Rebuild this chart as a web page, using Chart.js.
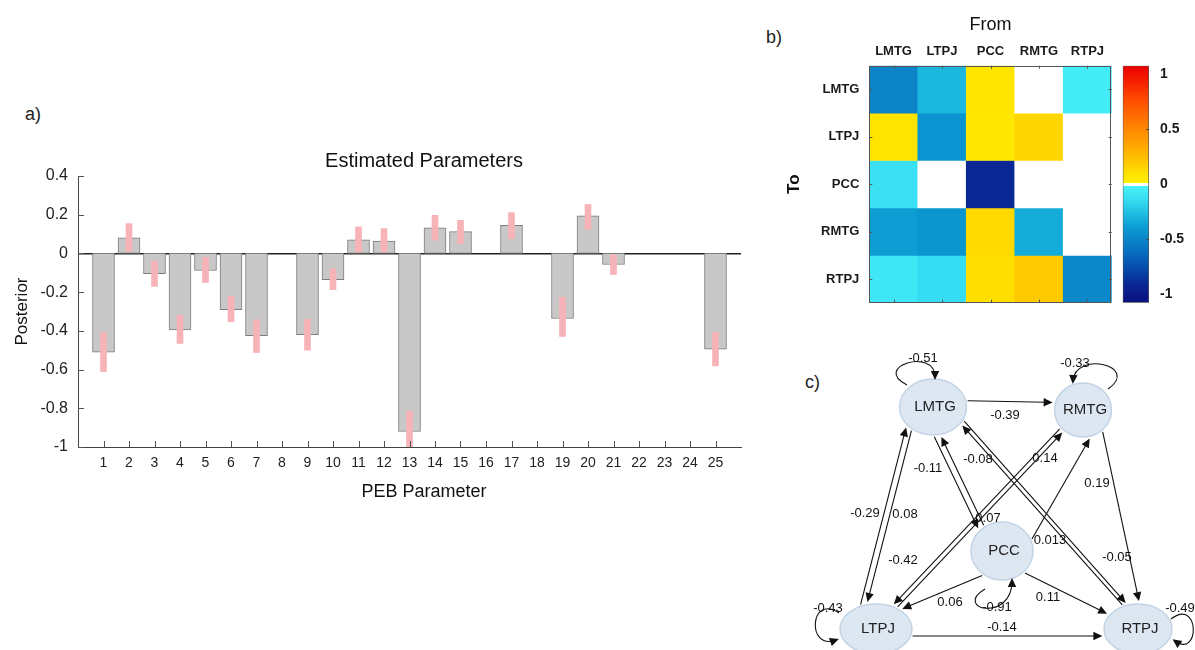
<!DOCTYPE html>
<html><head><meta charset="utf-8">
<script src="https://cdn.jsdelivr.net/npm/chart.js@4.4.1/dist/chart.umd.min.js"></script>
<style>
html,body{margin:0;padding:0;background:#fff;width:1195px;height:650px;overflow:hidden;position:relative;font-family:"Liberation Sans",Arial,sans-serif;}
.panel{position:absolute;}
.lbl{position:absolute;font-size:18px;color:#222;line-height:21px;}
</style></head><body>
<div class="lbl" style="left:25px;top:104px">a)</div>
<div class="lbl" style="left:766px;top:27px">b)</div>
<div class="lbl" style="left:805px;top:372px">c)</div>
<div class="panel" style="left:0;top:140px;width:848px;height:370px"><canvas id="bar"></canvas></div>
<div class="panel" style="left:760px;top:0;width:435px;height:330px"><canvas id="heat"></canvas></div>
<div class="panel" style="left:1110px;top:0;width:85px;height:330px"><canvas id="cbar"></canvas></div>
<div class="panel" style="left:800px;top:340px;width:395px;height:310px"><canvas id="net"></canvas></div>
<script>
// ---------- a) bar chart data ----------
const paramIds = [1,2,3,4,5,6,7,8,9,10,11,12,13,14,15,16,17,18,19,20,21,22,23,24,25];
const posterior = [-0.51,0.08,-0.105,-0.395,-0.088,-0.29,-0.425,null,-0.42,-0.135,0.07,0.064,-0.92,0.132,0.113,null,0.145,null,-0.336,0.194,-0.057,null,null,null,-0.495];
const ciLow  = [-0.61,0.01,-0.17,-0.465,-0.15,-0.353,-0.512,null,-0.5,-0.187,0.007,0.007,-1.04,0.068,0.05,null,0.076,null,-0.429,0.125,-0.109,null,null,null,-0.581];
const ciHigh = [-0.41,0.154,-0.04,-0.32,-0.02,-0.22,-0.343,null,-0.34,-0.08,0.137,0.128,-0.815,0.197,0.171,null,0.211,null,-0.226,0.253,-0.007,null,null,null,-0.408];

// ---------- b) matrix data (rows = To, cols = From) ----------
const fromNames = ['LMTG','LTPJ','PCC','RMTG','RTPJ'];
const toNames   = ['LMTG','LTPJ','PCC','RMTG','RTPJ'];
const toLMTG = [-0.51,-0.29,0.07,null,-0.05];
const toLTPJ = [0.08,-0.43,0.06,0.14,null];
const toPCC  = [-0.11,null,-0.91,null,null];
const toRMTG = [-0.39,-0.42,0.13,-0.33,null];
const toRTPJ = [-0.08,-0.14,0.11,0.19,-0.49];
const cbarTicks = [-1,-0.5,0,0.5,1];
const cbarTickLabels = ['-1','-0.5','0','0.5','1'];

// ---------- c) network data ----------
const nodeNames = ['LMTG','RMTG','PCC','LTPJ','RTPJ'];
const edgeFrom  = ['LMTG','LTPJ','LMTG','LMTG','PCC','LMTG','RTPJ','RMTG','LTPJ','PCC','RMTG','PCC','PCC','LTPJ'];
const edgeTo    = ['RMTG','LMTG','LTPJ','PCC','LMTG','RTPJ','LMTG','LTPJ','RMTG','RMTG','RTPJ','LTPJ','RTPJ','RTPJ'];
const edgeValue = [-0.39,-0.29,0.08,-0.11,0.07,-0.08,-0.05,0.14,-0.42,0.013,0.19,0.06,0.11,-0.14];
const selfNodes = ['LMTG','RMTG','PCC','LTPJ','RTPJ'];
const selfValue = [-0.51,-0.33,-0.91,-0.43,-0.49];

// ---------- layout / style ----------
const netLayout = {
  nodes:{LMTG:{x:133,y:67,rx:33.5,ry:28},RMTG:{x:283,y:70,rx:28.5,ry:27},PCC:{x:202,y:211,rx:31,ry:29},LTPJ:{x:76,y:289,rx:36,ry:25},RTPJ:{x:338,y:289,rx:34,ry:25}},
  edges:[
    {a:-7,b:-7,lx:205,ly:75},
    {a:-21,b:-21,lx:65,ly:173},
    {a:15,b:15,lx:105,ly:174},
    {a:11.7,b:11.7,lx:128,ly:128},
    {a:-5.4,b:-5.4,lx:188,ly:178},
    {a:-13.9,b:-8.1,lx:178,ly:119},
    {a:4.4,b:9.5,lx:317,ly:217},
    {a:4,b:4,lx:245,ly:118},
    {a:0.5,b:0.5,lx:103,ly:220},
    {a:20,b:20,lx:250,ly:200},
    {a:-14.7,b:-6.8,lx:297,ly:143},
    {a:-15,b:8.5,lx:150,ly:262},
    {a:9.6,b:0,lx:248,ly:257},
    {a:7,b:7,lx:202,ly:287}
  ],
  loops:{
    LMTG:{s:[-26,-22],c1:[-62,-40],c2:[2,-60],e:[2,-30],lx:123,ly:18},
    RMTG:{s:[25,-21],c1:[58,-44],c2:[-8,-60],e:[-10,-29],lx:275,ly:23},
    PCC:{s:[-17,38],c1:[-50,58],c2:[10,72],e:[10,30],lx:197,ly:267},
    LTPJ:{s:[-37,-16],c1:[-66,-36],c2:[-70,22],e:[-40,11],lx:28,ly:268},
    RTPJ:{s:[33,-10],c1:[62,-32],c2:[62,30],e:[37,12],lx:380,ly:268}
  }
};
const negVals=[-1.08,-1.0,-0.9,-0.75,-0.6,-0.5,-0.4,-0.3,-0.15,0];
const negCols=['#08127e','#0a1a8a','#0a2a96','#0650b0','#0872c0','#0a86c8','#0b9ad2','#1ab4de','#35daf0','#4af4fa'];
const posVals=[0,0.1,0.2,0.35,0.5,0.75,1.0,1.08];
const posCols=['#fff200','#ffe000','#ffc800','#ffa800','#ff8800','#ff5000','#f21000','#e80000'];
const cbarMin=-1.08, cbarMax=1.08;

Chart.defaults.font.family = "'Liberation Sans', Arial, Helvetica, sans-serif";
Chart.defaults.color = '#222';

function hex2rgb(h){return [parseInt(h.slice(1,3),16),parseInt(h.slice(3,5),16),parseInt(h.slice(5,7),16)];}
function interp(vals, cols, v){
  if(v<=vals[0]) return cols[0];
  for(let i=1;i<vals.length;i++){
    if(v<=vals[i]){
      const t=(v-vals[i-1])/(vals[i]-vals[i-1]);
      const a=hex2rgb(cols[i-1]), b=hex2rgb(cols[i]);
      return 'rgb('+a.map((c,k)=>Math.round(c+(b[k]-c)*t)).join(',')+')';
    }
  }
  return cols[cols.length-1];
}
function colorFor(v){
  if(v===null||v===undefined) return '#ffffff';
  return v<0 ? interp(negVals,negCols,v) : interp(posVals,posCols,v);
}

// ---------- a) bar chart ----------
const innerTicks = {id:'innerTicks', afterDraw(chart){
  const {ctx, chartArea:a, scales:{x,y}} = chart;
  ctx.save(); ctx.strokeStyle='#555'; ctx.lineWidth=1; ctx.beginPath();
  paramIds.forEach(p=>{const px=Math.round(x.getPixelForValue(p))+0.5; ctx.moveTo(px,a.bottom); ctx.lineTo(px,a.bottom-6);});
  y.ticks.forEach(t=>{const py=Math.round(y.getPixelForValue(t.value))+0.5; ctx.moveTo(a.left,py); ctx.lineTo(a.left+6,py);});
  ctx.stroke(); ctx.restore();
}};
new Chart(document.getElementById('bar'), {
  type:'bar',
  data:{datasets:[
    {label:'CI', data:paramIds.map((p,i)=>({x:p, y: ciLow[i]===null?null:[ciLow[i],ciHigh[i]]})), backgroundColor:'#f7b3b7', borderWidth:0, barThickness:6, grouped:false, order:0},
    {label:'Posterior', data:paramIds.map((p,i)=>({x:p, y:posterior[i]})), backgroundColor:'#c8c8c8', borderColor:'#7d7d7d', borderWidth:1, borderSkipped:false, barThickness:22, grouped:false, order:1}
  ]},
  options:{
    responsive:true, maintainAspectRatio:false, animation:false, events:[],
    layout:{padding:0},
    plugins:{legend:{display:false}, tooltip:{enabled:false},
      title:{display:true, text:'Estimated Parameters', font:{size:20, weight:'normal'}, color:'#111', padding:{top:9.7,bottom:2.3}},
      subtitle:{display:true, position:'bottom', text:'PEB Parameter', font:{size:18}, color:'#111', padding:{top:5.9,bottom:7.5}}
    },
    scales:{
      x:{type:'linear', min:0, max:26, offset:false, grid:{display:false, drawTicks:false}, border:{display:true, color:'#444'},
         ticks:{stepSize:1, autoSkip:false, maxRotation:0, padding:7.5, font:{size:14}, color:'#222', callback:v=>(v>=1&&v<=25)?String(v):''},
         afterFit(s){s.height=28;}},
      y:{min:-1, max:0.4, grid:{drawTicks:false, lineWidth:1.5, color:c=>(c.tick && Math.abs(c.tick.value)<1e-9)?'#222':'rgba(0,0,0,0)'},
         border:{display:true, color:'#444'},
         ticks:{stepSize:0.2, padding:10, font:{size:16}, color:'#222', callback:v=>{const r=Math.round(v*10)/10; return r===0?'0':String(r);}},
         title:{display:true, text:'Posterior', font:{size:17}, color:'#111', padding:{top:12}},
         afterFit(s){s.width=78;}},
      yR:{position:'right', ticks:{display:false}, grid:{display:false, drawTicks:false}, border:{display:false}, afterFit(s){s.width=107;}}
    }
  },
  plugins:[innerTicks]
});

// ---------- b) heatmap ----------
const matrix = [toLMTG,toLTPJ,toPCC,toRMTG,toRTPJ];
const heatFrame = {id:'heatFrame', afterDraw(chart){
  const {ctx, chartArea:a, scales:{x,y}} = chart;
  ctx.save(); ctx.strokeStyle='#555'; ctx.lineWidth=1;
  ctx.strokeRect(Math.round(a.left)+0.5, Math.round(a.top)+0.5, Math.round(a.right-a.left)-1, Math.round(a.bottom-a.top)-1);
  ctx.beginPath();
  fromNames.forEach((n,j)=>{const px=Math.round(x.getPixelForValue(j))+0.5; ctx.moveTo(px,a.bottom); ctx.lineTo(px,a.bottom-3); ctx.moveTo(px,a.top); ctx.lineTo(px,a.top+3);});
  toNames.forEach((n,i)=>{const py=Math.round(y.getPixelForValue(i+0.5))+0.5; ctx.moveTo(a.right,py); ctx.lineTo(a.right-3,py); ctx.moveTo(a.left,py); ctx.lineTo(a.left+3,py);});
  ctx.stroke(); ctx.restore();
}};
new Chart(document.getElementById('heat'), {
  type:'bar',
  data:{labels:fromNames, datasets:matrix.map((row,i)=>({label:toNames[i], data:fromNames.map(()=>[i,i+1]), backgroundColor:row.map(colorFor), borderWidth:0, barPercentage:1, categoryPercentage:1, grouped:false}))},
  options:{
    responsive:true, maintainAspectRatio:false, animation:false, events:[],
    layout:{padding:{left:0,right:83.3,top:0,bottom:27.3}},
    plugins:{legend:{display:false}, tooltip:{enabled:false}},
    scales:{
      x:{position:'top', grid:{display:false, drawTicks:false}, border:{display:false},
         ticks:{font:{size:13, weight:'bold'}, color:'#1a1a1a', padding:6.5},
         title:{display:true, text:'From', font:{size:18}, color:'#111', padding:{top:14,bottom:0}},
         afterFit(s){s.height=65.7;}},
      y:{min:0, max:5, reverse:true, grid:{display:false, drawTicks:false}, border:{display:false},
         afterBuildTicks(s){s.ticks=toNames.map((n,i)=>({value:i+0.5}));},
         ticks:{callback:(v,i)=>toNames[i], font:{size:13, weight:'bold'}, color:'#1a1a1a', padding:10},
         title:{display:true, text:'To', font:{size:17, weight:'bold'}, color:'#111', padding:{top:24}},
         afterFit(s){s.width=109.3;}}
    }
  },
  plugins:[heatFrame]
});

// ---------- colorbar ----------
function makeGradient(chart){
  const a = chart.chartArea; if(!a) return '#888';
  const y = chart.scales.y;
  const g = chart.ctx.createLinearGradient(0, y.getPixelForValue(cbarMin), 0, y.getPixelForValue(cbarMax));
  const f = v=>Math.min(1,Math.max(0,(v-cbarMin)/(cbarMax-cbarMin)));
  const w = 0.012;
  negVals.forEach((v,i)=>g.addColorStop(f(v===0?-w:v), negCols[i]));
  g.addColorStop(f(-w), '#ffffff'); g.addColorStop(f(w), '#ffffff');
  posVals.forEach((v,i)=>g.addColorStop(f(v===0?w:v), posCols[i]));
  return g;
}
const cbarTicksPlugin = {id:'cbarTicks', afterDraw(chart){
  const {ctx, chartArea:a, scales:{y}} = chart;
  ctx.save(); ctx.strokeStyle='#444'; ctx.lineWidth=1; ctx.beginPath();
  [-0.5,0.5].forEach(v=>{const py=Math.round(y.getPixelForValue(v))+0.5; ctx.moveTo(a.right,py); ctx.lineTo(a.right-3,py);});
  ctx.stroke(); ctx.restore();
}};
new Chart(document.getElementById('cbar'), {
  type:'bar',
  data:{labels:[''], datasets:[{data:[[cbarMin,cbarMax]], backgroundColor:c=>makeGradient(c.chart), borderColor:'#555', borderWidth:1, borderSkipped:false, barPercentage:1, categoryPercentage:1}]},
  options:{
    responsive:true, maintainAspectRatio:false, animation:false, events:[],
    layout:{padding:{left:12.7, top:65.7, bottom:27.3, right:0}},
    plugins:{legend:{display:false}, tooltip:{enabled:false}},
    scales:{
      x:{display:false},
      y:{position:'right', min:cbarMin, max:cbarMax, grid:{display:false, drawTicks:false}, border:{display:false},
         afterBuildTicks(s){s.ticks=cbarTicks.map(v=>({value:v}));},
         ticks:{callback:(v,i)=>cbarTickLabels[i], font:{size:14, weight:'bold'}, color:'#1a1a1a', padding:11},
         afterFit(s){s.width=46;}}
    }
  },
  plugins:[cbarTicksPlugin]
});

// ---------- c) network ----------
function hitEllipse(N, p, vx, vy){
  const ox=p.x-N.x, oy=p.y-N.y, rx2=N.rx*N.rx, ry2=N.ry*N.ry;
  const A=vx*vx/rx2+vy*vy/ry2, B=2*(ox*vx/rx2+oy*vy/ry2), C=ox*ox/rx2+oy*oy/ry2-1;
  const D=B*B-4*A*C; if(D<0) return null;
  const s=Math.sqrt(D); return [(-B-s)/(2*A), (-B+s)/(2*A)];
}
function arrowHead(ctx,x,y,vx,vy){
  const len=9, w=4.2;
  ctx.beginPath(); ctx.moveTo(x,y);
  ctx.lineTo(x-vx*len-vy*w, y-vy*len+vx*w);
  ctx.lineTo(x-vx*len+vy*w, y-vy*len-vx*w);
  ctx.closePath(); ctx.fill();
}
const netPlugin = {id:'netPlugin', afterDatasetsDraw(chart){
  const {ctx, scales:{x,y}} = chart;
  const meta = chart.getDatasetMeta(0);
  const sx = Math.abs(x.getPixelForValue(1)-x.getPixelForValue(0));
  const sy = Math.abs(y.getPixelForValue(1)-y.getPixelForValue(0));
  const P = {};
  nodeNames.forEach((n,i)=>{const el=meta.data[i]; const L=netLayout.nodes[n]; P[n]={x:el.x, y:el.y, rx:L.rx*sx, ry:L.ry*sy};});
  ctx.save();
  nodeNames.forEach(n=>{const N=P[n];
    ctx.beginPath(); ctx.ellipse(N.x,N.y,N.rx,N.ry,0,0,Math.PI*2);
    ctx.fillStyle='#dde7f2'; ctx.fill(); ctx.lineWidth=1.5; ctx.strokeStyle='#c3d3e6'; ctx.stroke();
  });
  ctx.fillStyle='#222'; ctx.font="15px 'Liberation Sans', Arial, sans-serif"; ctx.textAlign='center'; ctx.textBaseline='middle';
  nodeNames.forEach(n=>{ctx.fillText(n, P[n].x+2, P[n].y);});
  ctx.strokeStyle='#111'; ctx.fillStyle='#111'; ctx.lineWidth=1.1;
  ctx.font="13px 'Liberation Sans', Arial, sans-serif";
  edgeFrom.forEach((f,i)=>{
    const A=P[f], B=P[edgeTo[i]], E=netLayout.edges[i];
    let ux=B.x-A.x, uy=B.y-A.y; const len=Math.hypot(ux,uy); ux/=len; uy/=len;
    const nx=-uy, ny=ux;
    const p0={x:A.x+nx*E.a*sx, y:A.y+ny*E.a*sy}, p1={x:B.x+nx*E.b*sx, y:B.y+ny*E.b*sy};
    let vx=p1.x-p0.x, vy=p1.y-p0.y; const L2=Math.hypot(vx,vy); vx/=L2; vy/=L2;
    const r0=hitEllipse(A,p0,vx,vy), r1=hitEllipse(B,p0,vx,vy);
    const t0=(r0?r0[1]:0)+2, t1=(r1?r1[0]:L2)-3;
    const sX=p0.x+vx*t0, sY=p0.y+vy*t0, eX=p0.x+vx*t1, eY=p0.y+vy*t1;
    ctx.beginPath(); ctx.moveTo(sX,sY); ctx.lineTo(eX-vx*6,eY-vy*6); ctx.stroke();
    arrowHead(ctx,eX,eY,vx,vy);
    ctx.fillText(String(edgeValue[i]), x.getPixelForValue(E.lx), y.getPixelForValue(E.ly));
  });
  selfNodes.forEach((n,i)=>{
    const N=P[n], Lp=netLayout.loops[n];
    const pt=q=>[N.x+q[0]*sx, N.y+q[1]*sy];
    const s=pt(Lp.s), c1=pt(Lp.c1), c2=pt(Lp.c2), e=pt(Lp.e);
    ctx.beginPath(); ctx.moveTo(s[0],s[1]); ctx.bezierCurveTo(c1[0],c1[1],c2[0],c2[1],e[0],e[1]); ctx.stroke();
    let vx=e[0]-c2[0], vy=e[1]-c2[1]; const l=Math.hypot(vx,vy); vx/=l; vy/=l;
    arrowHead(ctx,e[0]+vx*3,e[1]+vy*3,vx,vy);
    ctx.fillText(String(selfValue[i]), x.getPixelForValue(Lp.lx), y.getPixelForValue(Lp.ly));
  });
  ctx.restore();
}};
new Chart(document.getElementById('net'), {
  type:'scatter',
  data:{datasets:[{label:'nodes', data:nodeNames.map(n=>({x:netLayout.nodes[n].x, y:netLayout.nodes[n].y})), pointRadius:0, pointHoverRadius:0}]},
  options:{
    responsive:true, maintainAspectRatio:false, animation:false, events:[],
    layout:{padding:0},
    plugins:{legend:{display:false}, tooltip:{enabled:false}},
    scales:{x:{type:'linear', min:0, max:395, display:false}, y:{type:'linear', min:0, max:310, reverse:true, display:false}}
  },
  plugins:[netPlugin]
});
</script>
</body></html>
